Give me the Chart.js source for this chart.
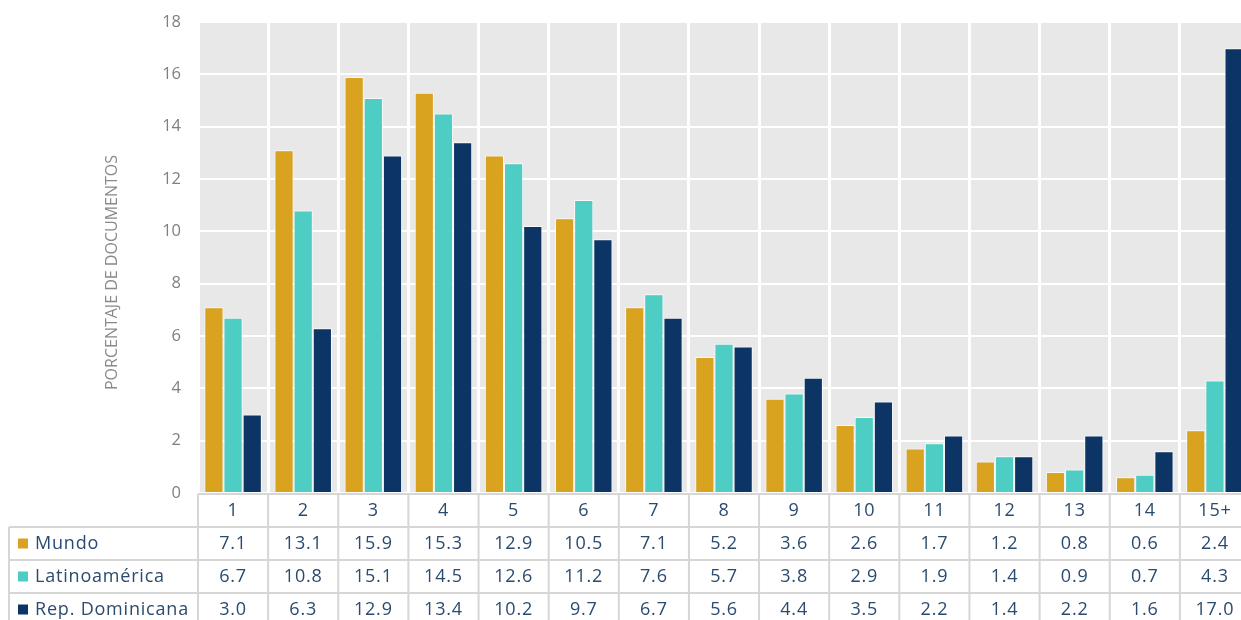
<!DOCTYPE html>
<html lang="es">
<head>
<meta charset="utf-8">
<title>Porcentaje de documentos por número de autores</title>
<script src="https://cdn.jsdelivr.net/npm/chart.js@4/dist/chart.umd.min.js"></script>
<style>
  html, body { margin: 0; padding: 0; background: #ffffff; overflow: hidden; }
  #wrap { position: absolute; left: 0; top: 0; width: 1252px; height: 620px; }
</style>
</head>
<body>
<div id="wrap"><canvas id="chart" width="1252" height="620"></canvas></div>
<script>
// Número de autores por documento
const categories = ['1', '2', '3', '4', '5', '6', '7', '8', '9', '10', '11', '12', '13', '14', '15+'];

// Porcentaje de documentos por grupo
const mundo          = [7.1, 13.1, 15.9, 15.3, 12.9, 10.5, 7.1, 5.2, 3.6, 2.6, 1.7, 1.2, 0.8, 0.6, 2.4];
const latinoamerica  = [6.7, 10.8, 15.1, 14.5, 12.6, 11.2, 7.6, 5.7, 3.8, 2.9, 1.9, 1.4, 0.9, 0.7, 4.3];
const repDominicana  = [3.0, 6.3, 12.9, 13.4, 10.2, 9.7, 6.7, 5.6, 4.4, 3.5, 2.2, 1.4, 2.2, 1.6, 17.0];

const seriesNames = ['Mundo', 'Latinoamérica', 'Rep. Dominicana'];
const seriesColors = ['#D9A21F', '#4ECDC4', '#0C3565'];
const yTicks = [0, 2, 4, 6, 8, 10, 12, 14, 16, 18];
const yTitle = 'PORCENTAJE DE DOCUMENTOS';

const FONT = '"Open Sans", "Noto Sans", sans-serif';
const TABLE_TEXT = '#2B4A6F';
const TABLE_LINE = '#D6D6D6';

// Grey panel behind the bars
const panelBackground = {
  id: 'panelBackground',
  beforeDraw(chart) {
    const { ctx, chartArea: a } = chart;
    ctx.save();
    ctx.fillStyle = '#E8E8E8';
    ctx.fillRect(a.left, a.top, a.right - a.left, a.bottom - a.top);
    ctx.restore();
  }
};

// Vertical axis title, set a little below the panel's middle
const axisTitle = {
  id: 'axisTitle',
  afterDraw(chart) {
    const { ctx, chartArea: a } = chart;
    ctx.save();
    ctx.translate(112, (a.top + a.bottom) / 2 + 15);
    ctx.rotate(-Math.PI / 2);
    ctx.fillStyle = '#8A8A8A';
    ctx.font = '16px ' + FONT;
    ctx.textAlign = 'center';
    ctx.textBaseline = 'middle';
    ctx.fillText(yTitle, 0, 0);
    ctx.restore();
  }
};

// Data table under the plot: category row plus one row per series
const dataTable = {
  id: 'dataTable',
  afterDraw(chart) {
    const { ctx, chartArea: a } = chart;
    const x = chart.scales.x;
    const step = x.getPixelForValue(1) - x.getPixelForValue(0);
    const rowH = 33;
    const headTop = a.bottom + 1;
    const bodyTop = headTop + rowH;
    const labelLeft = 9;
    const rows = [mundo, latinoamerica, repDominicana];

    ctx.save();
    ctx.strokeStyle = TABLE_LINE;
    ctx.lineWidth = 2;

    // horizontal rules
    ctx.beginPath();
    ctx.moveTo(a.left, headTop); ctx.lineTo(a.right, headTop);
    for (let r = 0; r <= rows.length; r++) {
      const y = bodyTop + r * rowH;
      ctx.moveTo(labelLeft, y); ctx.lineTo(a.right, y);
    }
    // vertical rules
    ctx.moveTo(labelLeft, bodyTop); ctx.lineTo(labelLeft, bodyTop + rows.length * rowH);
    for (let i = 0; i <= categories.length; i++) {
      const vx = x.getPixelForValue(i) - step / 2;
      ctx.moveTo(vx, headTop); ctx.lineTo(vx, bodyTop + rows.length * rowH);
    }
    ctx.stroke();

    ctx.fillStyle = TABLE_TEXT;
    ctx.font = '18px ' + FONT;
    ctx.letterSpacing = '0.8px';
    ctx.textAlign = 'center';
    ctx.textBaseline = 'middle';
    categories.forEach((c, i) => {
      ctx.fillText(c, x.getPixelForValue(i), headTop + rowH / 2);
    });

    rows.forEach((vals, r) => {
      const cy = bodyTop + r * rowH + rowH / 2;
      ctx.fillStyle = seriesColors[r];
      ctx.fillRect(labelLeft + 9, cy - 5, 10, 10);
      ctx.fillStyle = TABLE_TEXT;
      ctx.textAlign = 'left';
      ctx.fillText(seriesNames[r], labelLeft + 26, cy);
      ctx.textAlign = 'center';
      vals.forEach((v, i) => {
        ctx.fillText(v.toFixed(1), x.getPixelForValue(i), cy);
      });
    });
    ctx.restore();
  }
};

const datasets = [mundo, latinoamerica, repDominicana].map((data, i) => ({
  label: seriesNames[i],
  data,
  backgroundColor: seriesColors[i],
  borderColor: 'rgba(255,255,255,0.75)',
  borderWidth: 1,
  categoryPercentage: 0.82,
  barPercentage: 1.0
}));

new Chart(document.getElementById('chart'), {
  type: 'bar',
  data: { labels: categories, datasets },
  plugins: [panelBackground, axisTitle, dataTable],
  options: {
    responsive: false,
    animation: false,
    devicePixelRatio: 1,
    layout: { padding: { left: 100, right: 2, top: 22, bottom: 127 } },
    plugins: {
      legend: { display: false },
      tooltip: { enabled: false }
    },
    scales: {
      x: {
        offset: true,
        border: { display: false },
        grid: { color: '#FFFFFF', lineWidth: 3, drawTicks: false, offset: true },
        ticks: { display: false },
        afterFit(s) { s.height = 0; }
      },
      y: {
        min: 0,
        max: 18,
        border: { display: false },
        grid: { color: '#FFFFFF', lineWidth: 2, drawTicks: false },
        afterBuildTicks(s) { s.ticks = yTicks.map(v => ({ value: v })); },
        ticks: {
          padding: 17,
          color: '#7F7F7F',
          font: { family: FONT, size: 16.5 }
        },
        afterFit(s) { s.width = 98; s.paddingTop = 0; s.paddingBottom = 0; }
      }
    }
  }
});
</script>
</body>
</html>
